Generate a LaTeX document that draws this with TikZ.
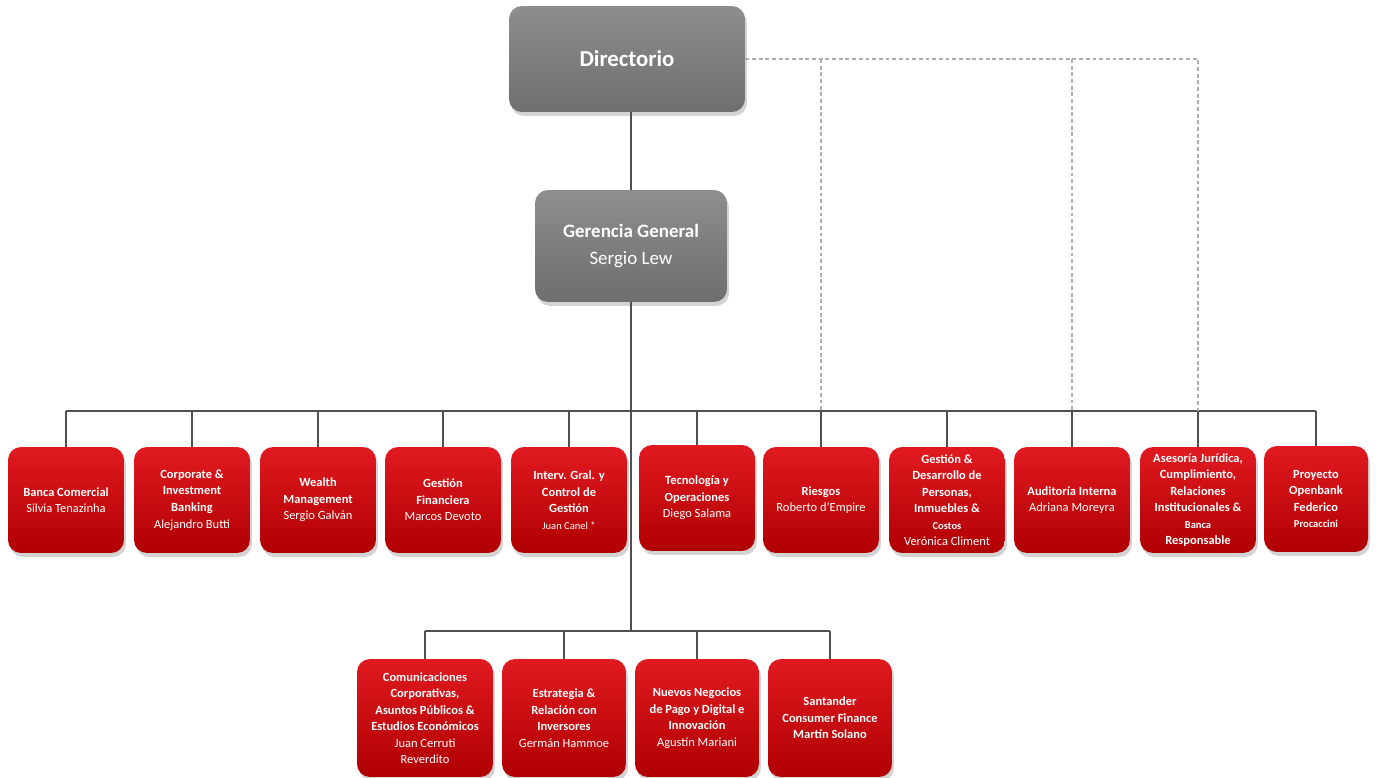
\documentclass[tikz,border=0pt]{standalone}
\usepackage{fontspec}
\setmainfont{Carlito}
\usetikzlibrary{shadows}

\definecolor{redtop}{RGB}{224,26,32}
\definecolor{redbot}{RGB}{176,0,2}
\definecolor{greytop}{RGB}{142,142,142}
\definecolor{greybot}{RGB}{110,110,110}
\definecolor{linegrey}{RGB}{80,80,80}
\definecolor{dashgrey}{RGB}{175,175,175}

% smaller lines and name lines
\newcommand{\sm}{\fontsize{6}{9.4}\selectfont}
\newcommand{\nm}{\mdseries}

\begin{document}
\begin{tikzpicture}[x=0.02cm,y=-0.02cm,
            box/.style={rounded corners=2.6mm,align=center,text=white,
                drop shadow={shadow xshift=0.4mm,shadow yshift=-0.8mm,opacity=0.35}},
            redbox/.style={box,top color=redtop,bottom color=redbot,
                minimum width=2.32cm,minimum height=2.12cm,
                font=\fontsize{7.1}{9.4}\selectfont\bfseries},
            greybox/.style={box,top color=greytop,bottom color=greybot},
            lowbox/.style={redbox,minimum width=2.48cm,minimum height=2.36cm},
            line/.style={draw=linegrey,line width=0.6pt},
            dline/.style={draw=dashgrey,line width=0.6pt,dash pattern=on 2.2pt off 1.6pt}
        ]
        \useasboundingbox (0,0) rectangle (1377,778);

        % top
        \node[greybox,minimum width=4.72cm,minimum height=2.12cm,
              font=\fontsize{13}{15}\selectfont\bfseries] (dir) at (627,59) {Directorio};
        \node[greybox,minimum width=3.84cm,minimum height=2.24cm,
              font=\fontsize{10.8}{15}\selectfont\bfseries] (gg) at (631,246)
              {Gerencia General\\\nm Sergio Lew};

        % first row
        \node[redbox] (bc)  at (66,500)   {Banca Comercial\\\nm Silvia Tenazinha};
        \node[redbox] (cib) at (192,500)  {Corporate \&\\Investment\\Banking\\\nm Alejandro Butti};
        \node[redbox] (wm)  at (318,500)  {Wealth\\Management\\\nm Sergio Galván};
        \node[redbox] (gf)  at (443,500)  {Gestión\\Financiera\\\nm Marcos Devoto};
        \node[redbox] (ig)  at (569,500)  {Interv. Gral. y\\Control de\\Gestión\\\nm\sm Juan Canel *};
        \node[redbox] (to)  at (697,498)  {Tecnología y\\Operaciones\\\nm Diego Salama};
        \node[redbox] (ri)  at (821,500)  {Riesgos\\\nm Roberto d’Empire};
        \node[redbox] (gd)  at (947,500)  {Gestión \&\\Desarrollo de\\Personas,\\Inmuebles \&\\\sm Costos\\\nm Verónica Climent};
        \node[redbox] (ai)  at (1072,500) {Auditoría Interna\\\nm Adriana Moreyra};
        \node[redbox] (aj)  at (1198,500) {Asesoría Jurídica,\\Cumplimiento,\\Relaciones\\Institucionales \&\\\sm Banca\\Responsable};
        \node[redbox,minimum width=2.08cm] (po) at (1316,499) {Proyecto\\Openbank\\Federico\\\sm Procaccini};

        % second row
        \node[lowbox,minimum width=2.72cm] (cc) at (425,718)
              {Comunicaciones\\Corporativas,\\Asuntos Públicos \&\\Estudios Económicos\\\nm Juan Cerruti\\\nm Reverdito};
        \node[lowbox] (er) at (564,718) {Estrategia \&\\Relación con\\Inversores\\\nm Germán Hammoe};
        \node[lowbox] (nn) at (697,718) {Nuevos Negocios\\de Pago y Digital e\\Innovación\\\nm Agustín Mariani};
        \node[lowbox] (sc) at (830,718) {Santander\\Consumer Finance\\Martín Solano};

        \coordinate (b1) at (631,411);
        \coordinate (b2) at (631,631);

        % connectors
        \draw[line] (gg.north) -- (gg.north |- dir.south);
        \draw[line] (gg.south) -- (b2);
        \draw[line] (b1 -| bc) -- (b1 -| po);
        \draw[line] (b2 -| cc) -- (b2 -| sc);
        \foreach \n in {bc,cib,wm,gf,ig,to,ri,gd,ai,aj,po}
            \draw[line] (\n.north) -- (b1 -| \n);
        \foreach \n in {cc,er,nn,sc}
            \draw[line] (\n.north) -- (b2 -| \n);

        \draw[dline] (dir.east) -| (b1 -| aj);
        \draw[dline] (dir.east -| ri) -- (b1 -| ri);
        \draw[dline] (dir.east -| ai) -- (b1 -| ai);
    \end{tikzpicture}
\end{document}
